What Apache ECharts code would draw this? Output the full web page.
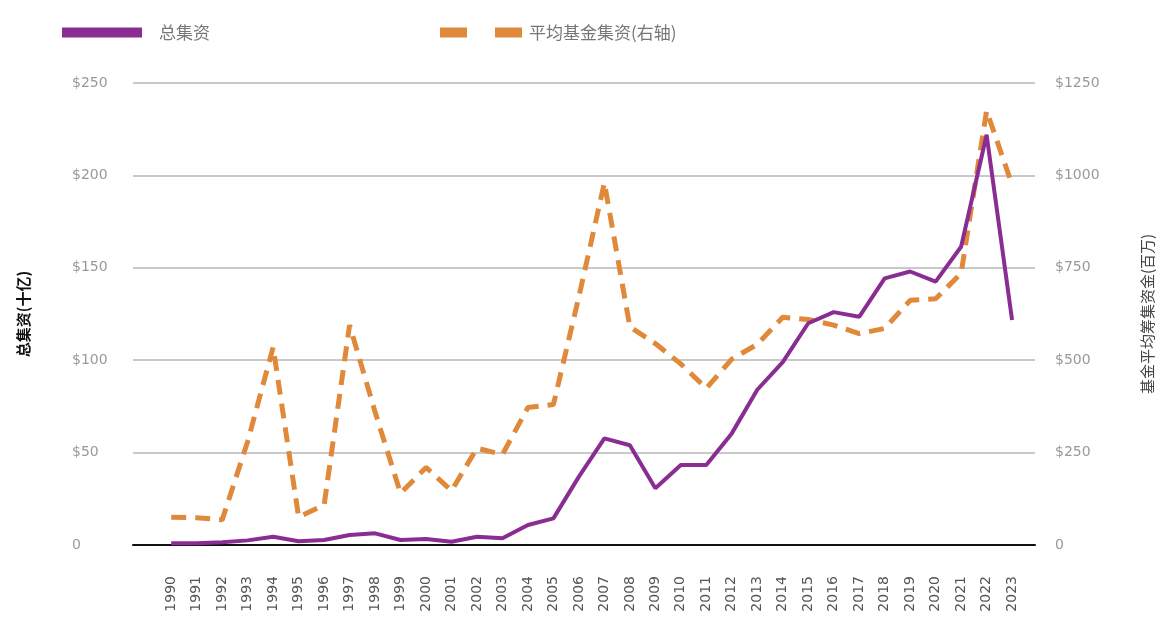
<!DOCTYPE html>
<html>
<head>
<meta charset="utf-8">
<script src="https://cdn.jsdelivr.net/npm/echarts@6/dist/echarts.min.js"></script>
<style>
  html, body { margin: 0; padding: 0; background: #fff; }
  #chart { width: 1158px; height: 623px; }
</style>
</head>
<body>
<div id="chart"></div>
<script>
// 年份
const years = [1990, 1991, 1992, 1993, 1994, 1995, 1996, 1997, 1998, 1999,
  2000, 2001, 2002, 2003, 2004, 2005, 2006, 2007, 2008, 2009,
  2010, 2011, 2012, 2013, 2014, 2015, 2016, 2017, 2018, 2019,
  2020, 2021, 2022, 2023]
// 总集资(十亿)
const totalRaised = [1, 1, 1.5, 2.5, 4.5, 2, 2.7, 5.4, 6.3, 2.7,
  3.2, 1.8, 4.5, 3.6, 10.8, 14.4, 37, 57.7, 54, 30.7,
  43.3, 43.3, 60.4, 84, 99, 120, 126, 123.5, 144.3, 148,
  142.5, 161.4, 222, 121.8]
// 平均基金集资(百万, 右轴)
const avgFundSize = [75, 74, 68, 280, 535, 76, 108, 595, 360, 140,
  210, 147, 262, 245, 372, 380, 672, 980, 590, 545,
  490, 424, 503, 543, 616, 610, 595, 572, 586, 662,
  666, 735, 1175, 975]
// 刻度
const leftTicks = [0, 50, 100, 150, 200, 250]
const rightTicks = [0, 250, 500, 750, 1000, 1250]

const PURPLE = '#8a2d93'
const ORANGE = '#e0893a'

const chart = echarts.init(document.getElementById('chart'))

const money = v => (v === 0 ? '0' : '$' + v)

const option = {
  animation: false,
  textStyle: { fontFamily: "'Noto Sans CJK SC', 'DejaVu Sans', sans-serif" },
  legend: [
    {
      left: 57,
      top: 19,
      itemWidth: 80,
      itemHeight: 10,
      textStyle: { color: '#777', fontSize: 17, padding: [0, 0, 0, 12] },
      data: [{ name: '总集资', icon: 'rect', itemStyle: { color: PURPLE } }]
    },
    {
      left: 435,
      top: 19,
      itemWidth: 82,
      itemHeight: 10,
      textStyle: { color: '#777', fontSize: 17, padding: [0, 0, 0, 2] },
      // 两段虚线图例
      data: [{
        name: '平均基金集资(右轴)',
        icon: 'path://M0,0H27V10H0Z M55,0H82V10H55Z',
        itemStyle: { color: ORANGE }
      }]
    }
  ],
  grid: { left: 133, right: 123, top: 83, bottom: 78, outerBoundsMode: 'none' },
  xAxis: {
    type: 'value',
    min: 1988.5,
    max: 2023.9,
    splitLine: { show: false },
    axisTick: { show: false },
    axisLine: { show: true, lineStyle: { color: '#111', width: 2 } },
    axisLabel: {
      customValues: years,
      rotate: 90,
      margin: 31,
      color: '#555',
      fontSize: 14,
      fontFamily: 'DejaVu Sans',
      formatter: v => String(v)
    }
  },
  yAxis: [
    {
      type: 'value',
      min: leftTicks[0],
      max: leftTicks[leftTicks.length - 1],
      interval: 50,
      name: '总集资(十亿)',
      nameLocation: 'middle',
      nameRotate: 90,
      nameGap: 102,
      nameTextStyle: { color: '#111', fontSize: 15, fontWeight: 'bold' },
      axisLine: { show: false },
      axisTick: { show: false },
      splitLine: { lineStyle: { color: '#c9c9c9', width: 2 } },
      axisLabel: {
        align: 'left',
        margin: 61,
        color: '#999',
        fontSize: 14,
        fontFamily: 'DejaVu Sans',
        formatter: money
      }
    },
    {
      type: 'value',
      position: 'right',
      min: rightTicks[0],
      max: rightTicks[rightTicks.length - 1],
      interval: 250,
      name: '基金平均筹集资金(百万)',
      nameLocation: 'middle',
      nameRotate: 90,
      nameGap: 105,
      nameTextStyle: { color: '#444', fontSize: 15 },
      axisLine: { show: false },
      axisTick: { show: false },
      splitLine: { show: false },
      axisLabel: {
        margin: 20,
        color: '#999',
        fontSize: 14,
        fontFamily: 'DejaVu Sans',
        formatter: money
      }
    }
  ],
  series: [
    {
      name: '平均基金集资(右轴)',
      type: 'line',
      yAxisIndex: 1,
      symbol: 'none',
      data: years.map((y, i) => [y, avgFundSize[i]]),
      itemStyle: { color: ORANGE },
      lineStyle: { color: ORANGE, width: 5, type: [15, 9] }
    },
    {
      name: '总集资',
      type: 'line',
      yAxisIndex: 0,
      symbol: 'none',
      data: years.map((y, i) => [y, totalRaised[i]]),
      itemStyle: { color: PURPLE },
      lineStyle: { color: PURPLE, width: 4 }
    }
  ]
}

chart.setOption(option)
</script>
</body>
</html>
